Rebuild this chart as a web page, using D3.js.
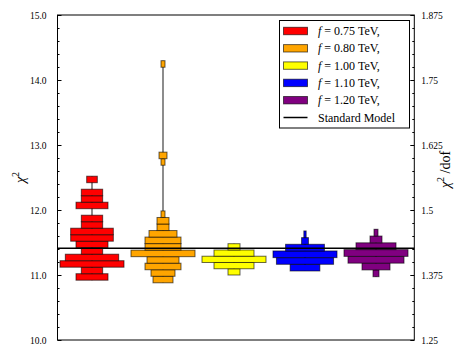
<!DOCTYPE html>
<html>
<head>
<meta charset="utf-8">
<script src="https://cdn.jsdelivr.net/npm/d3@7"></script>
<style>
  html, body { margin: 0; padding: 0; background: #fff; }
  svg { display: block; }
  text { font-family: "Liberation Serif", "DejaVu Serif", serif; fill: #000; }
</style>
</head>
<body>
<svg id="chart" width="473" height="355"></svg>
<script>
// ---------------- DATA ----------------
const fLabels = ["0.75", "0.80", "1.00", "1.10", "1.20"];
const seriesColors = ["#ff0000", "#ffa500", "#ffff00", "#0000ff", "#800080"];
// lower edge of the first (lowest) histogram bin for each f, and the bin width (in chi^2)
const binStart = [10.92, 10.88, 11.00, 11.062, 10.974];
const binWidth = [0.1, 0.1005, 0.0963, 0.1026, 0.1042];
// bin counts, from lowest chi^2 upward
const counts075 = [3, 2, 6, 5, 2, 3, 4, 4, 2, 2, 0, 3, 2, 2, 0, 1];
const counts080 = [5, 6, 9, 8, 16, 9, 9, 7, 3, 3, 1, 0, 0, 0, 0, 0, 0, 0, 1, 2,
                   0, 0, 0, 0, 0, 0, 0, 0, 0, 0, 0, 0, 0, 1];
const counts100 = [3, 10, 16, 10, 3];
const counts110 = [13, 25, 28, 17, 3, 1];
const counts120 = [3, 14, 28, 32, 20, 6, 2];
const allCounts = [counts075, counts080, counts100, counts110, counts120];
const smChi2 = 11.41;          // Standard Model
const nDof = 8;                // chi^2/dof = chi^2 / 8
const yMajorTicks = [10.0, 11.0, 12.0, 13.0, 14.0, 15.0];
const yMinorStep = 0.2;
const rightMajorTicks = [1.25, 1.375, 1.5, 1.625, 1.75, 1.875];
const rightMinorStep = 0.025;

// ---------------- LAYOUT ----------------
const svg = d3.select("#chart");
const frame = { left: 57.5, right: 414.3, top: 15, bottom: 340 };

const y = d3.scaleLinear().domain([10, 15]).range([frame.bottom, frame.top]);
const yR = d3.scaleLinear().domain([10 / nDof, 15 / nDof]).range([frame.bottom, frame.top]);
const x = d3.scaleLinear().domain([0.5, 5.5]).range([56.5, 411.5]);
const halfMax = 32; // max half-width of each histogram in px

// ---------------- VIOLINS ----------------
const gViol = svg.append("g");
allCounts.forEach((counts, i) => {
  const cx = x(i + 1);
  const maxC = d3.max(counts);
  const w = d3.scaleLinear().domain([0, maxC]).range([0, halfMax]);
  const bins = counts.map((c, k) => ({
    c, lo: binStart[i] + k * binWidth[i], hi: binStart[i] + (k + 1) * binWidth[i]
  }));
  const nz = bins.filter(b => b.c > 0);
  gViol.append("line")
    .attr("x1", cx).attr("x2", cx)
    .attr("y1", y(d3.min(nz, b => b.lo))).attr("y2", y(d3.max(nz, b => b.hi)))
    .attr("stroke", "#808080").attr("stroke-width", 1.8);
  gViol.selectAll(null).data(nz).enter().append("rect")
    .attr("x", b => cx - w(b.c))
    .attr("width", b => 2 * w(b.c))
    .attr("y", b => y(b.hi))
    .attr("height", b => y(b.lo) - y(b.hi))
    .attr("fill", seriesColors[i])
    .attr("stroke", "#000").attr("stroke-opacity", 0.6).attr("stroke-width", 1);
});

// Standard Model line
svg.append("line")
  .attr("x1", frame.left).attr("x2", frame.right)
  .attr("y1", y(smChi2)).attr("y2", y(smChi2))
  .attr("stroke", "#000").attr("stroke-width", 1.5);

// ---------------- AXES ----------------
const minorLeft = d3.range(10, 15.0001, yMinorStep).filter(v => Math.abs(v - Math.round(v)) > 1e-6);
const leftAxis = d3.axisLeft(y).tickValues(yMajorTicks).tickFormat(d3.format(".1f"))
  .tickSizeInner(-4).tickSizeOuter(0).tickPadding(11);
const gL = svg.append("g").attr("transform", `translate(${frame.left},0)`).call(leftAxis);
gL.select(".domain").remove();
gL.selectAll("text").attr("font-size", 9.5).attr("fill", "#000").style("font-family", '"Liberation Serif", serif');
gL.selectAll("line").attr("stroke", "#000");
const leftMinor = d3.axisLeft(y).tickValues(minorLeft).tickFormat("").tickSizeInner(-2).tickSizeOuter(0);
const gLm = svg.append("g").attr("transform", `translate(${frame.left},0)`).call(leftMinor);
gLm.select(".domain").remove();
gLm.selectAll("line").attr("stroke", "#000");

const minorRight = d3.range(1.25, 1.8751, rightMinorStep)
  .filter(v => !rightMajorTicks.some(t => Math.abs(t - v) < 1e-6));
const rightAxis = d3.axisRight(yR).tickValues(rightMajorTicks).tickFormat(d => String(+d.toFixed(3)))
  .tickSizeInner(-4).tickSizeOuter(0).tickPadding(7);
const gR = svg.append("g").attr("transform", `translate(${frame.right},0)`).call(rightAxis);
gR.select(".domain").remove();
gR.selectAll("text").attr("font-size", 9.5).attr("fill", "#000").style("font-family", '"Liberation Serif", serif');
gR.selectAll("line").attr("stroke", "#000");
const rightMinorAx = d3.axisRight(yR).tickValues(minorRight).tickFormat("").tickSizeInner(-2).tickSizeOuter(0);
const gRm = svg.append("g").attr("transform", `translate(${frame.right},0)`).call(rightMinorAx);
gRm.select(".domain").remove();
gRm.selectAll("line").attr("stroke", "#000");

// frame
svg.append("rect")
  .attr("x", frame.left).attr("y", frame.top)
  .attr("width", frame.right - frame.left).attr("height", frame.bottom - frame.top)
  .attr("fill", "none").attr("stroke", "#000").attr("stroke-width", 1);

// axis labels
const yl = svg.append("text")
  .attr("transform", `translate(25,${(frame.top + frame.bottom) / 2}) rotate(-90)`)
  .attr("text-anchor", "middle").attr("font-size", 14);
yl.append("tspan").attr("font-style", "italic").text("χ");
yl.append("tspan").attr("font-size", 10).attr("dy", -6).text("2");

const yr = svg.append("text")
  .attr("transform", `translate(450,${(frame.top + frame.bottom) / 2 - 8}) rotate(-90)`)
  .attr("text-anchor", "middle").attr("font-size", 14);
yr.append("tspan").attr("font-style", "italic").text("χ");
yr.append("tspan").attr("font-size", 10).attr("dy", -6).text("2");
yr.append("tspan").attr("dy", 6).text(" /dof");

// ---------------- LEGEND ----------------
const leg = svg.append("g");
leg.append("rect").attr("x", 279.5).attr("y", 20.5).attr("width", 130).attr("height", 107.5)
  .attr("fill", "#fff").attr("stroke", "#000").attr("stroke-width", 1);
const rowY = d3.range(6).map(k => 31 + k * 17.3);
fLabels.forEach((f, i) => {
  leg.append("rect").attr("x", 283.5).attr("y", rowY[i] - 3.7).attr("width", 24).attr("height", 7.4)
    .attr("fill", seriesColors[i]).attr("stroke", "#000").attr("stroke-opacity", 0.6);
  const t = leg.append("text").attr("x", 318).attr("y", rowY[i] + 4).attr("font-size", 12);
  t.append("tspan").attr("font-style", "italic").text("f");
  t.append("tspan").text(" = " + f + " TeV,");
});
leg.append("line").attr("x1", 283.5).attr("x2", 307.5).attr("y1", rowY[5]).attr("y2", rowY[5])
  .attr("stroke", "#000").attr("stroke-width", 1.5);
leg.append("text").attr("x", 318).attr("y", rowY[5] + 4).attr("font-size", 12).text("Standard Model");
</script>
</body>
</html>
